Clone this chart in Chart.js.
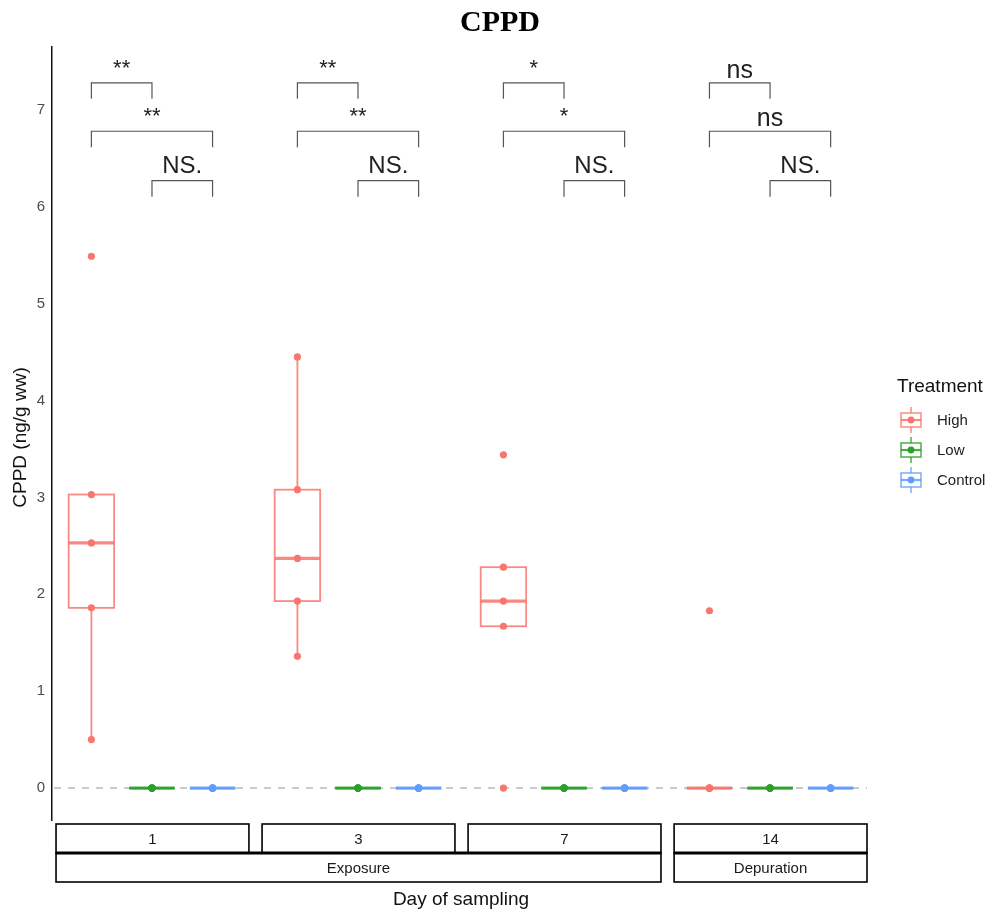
<!DOCTYPE html>
<html>
<head>
<title>CPPD</title>
<script src="https://cdn.jsdelivr.net/npm/chart.js@4"></script>
<style>
  body { margin: 0; background: #fff; }
</style>
</head>
<body>
<canvas id="c" width="990" height="913"></canvas>
<script>
// ---- data ----
const days = ['1', '3', '7', '14'];
const phases = ['Exposure', 'Depuration'];
const phaseSpan = [3, 1];           // how many day panels each phase covers
const treatments = ['High', 'Low', 'Control'];
const colors = ['#F8766D', '#2CA02C', '#619CFF'];

// observations per day (1, 3, 7, 14)
const highValues = [
  [0.50, 1.86, 2.53, 3.03, 5.49],
  [1.36, 1.93, 2.37, 3.08, 4.45],
  [0.00, 1.67, 1.93, 2.28, 3.44],
  [0.00, 0.00, 0.00, 0.00, 1.83]
];
const lowValues = [
  [0, 0, 0, 0, 0],
  [0, 0, 0, 0, 0],
  [0, 0, 0, 0, 0],
  [0, 0, 0, 0, 0]
];
const controlValues = [
  [0, 0, 0, 0, 0],
  [0, 0, 0, 0, 0],
  [0, 0, 0, 0, 0],
  [0, 0, 0, 0, 0]
];
const yTicks = [0, 1, 2, 3, 4, 5, 6, 7];

// significance brackets: pairs of treatments, level on y, label per day
const sigPairs = [[0, 1], [0, 2], [1, 2]];
const sigLevels = [7.28, 6.78, 6.27];
const sigLabels = [
  ['**', '**', 'NS.'],
  ['**', '**', 'NS.'],
  ['*', '*', 'NS.'],
  ['ns', 'ns', 'NS.']
];

const series = [highValues, lowValues, controlValues];

// panel layout on one linear x axis: 3 slots per day, small gap between days
const slot = 3.4;
const pos = (d, t) => 1 + d * slot + t;
const panelMin = d => 0.4 + d * slot;
const panelMax = d => 3.6 + d * slot;
const boxHalf = 0.375;

function quantile(sorted, p) {
  const h = (sorted.length - 1) * p;
  const lo = Math.floor(h), hi = Math.ceil(h);
  return sorted[lo] + (sorted[hi] - sorted[lo]) * (h - lo);
}
function boxStats(vals) {
  const s = vals.slice().sort((a, b) => a - b);
  const q1 = quantile(s, 0.25), med = quantile(s, 0.5), q3 = quantile(s, 0.75);
  const iqr = q3 - q1;
  const inside = s.filter(v => v >= q1 - 1.5 * iqr && v <= q3 + 1.5 * iqr);
  return { q1, med, q3, lo: Math.min(...inside), hi: Math.max(...inside) };
}

const datasets = treatments.map((name, t) => ({
  label: name,
  data: series[t].flatMap((vals, d) => vals.map(v => ({ x: pos(d, t), y: v }))),
  backgroundColor: colors[t],
  borderColor: colors[t],
  pointRadius: 3.6,
  pointHoverRadius: 3.6,
  borderWidth: 0
}));

const sans = "'Liberation Sans', Arial, sans-serif";

const boxPlugin = {
  id: 'boxes',
  beforeDatasetsDraw(chart) {
    const { ctx, chartArea: a, scales: { x, y } } = chart;
    ctx.save();
    // dashed zero line
    const y0 = y.getPixelForValue(0);
    ctx.strokeStyle = '#b5b5b5';
    ctx.lineWidth = 1.4;
    ctx.setLineDash([7, 7]);
    ctx.beginPath();
    ctx.moveTo(a.left + 2, y0);
    ctx.lineTo(a.right, y0);
    ctx.stroke();
    ctx.setLineDash([]);

    series.forEach((perDay, t) => perDay.forEach((vals, d) => {
      const s = boxStats(vals);
      const xc = x.getPixelForValue(pos(d, t));
      const xl = x.getPixelForValue(pos(d, t) - boxHalf);
      const xr = x.getPixelForValue(pos(d, t) + boxHalf);
      ctx.strokeStyle = colors[t];
      ctx.globalAlpha = 0.85;
      ctx.lineWidth = 1.8;
      ctx.beginPath();
      ctx.moveTo(xc, y.getPixelForValue(s.q3));
      ctx.lineTo(xc, y.getPixelForValue(s.hi));
      ctx.moveTo(xc, y.getPixelForValue(s.q1));
      ctx.lineTo(xc, y.getPixelForValue(s.lo));
      ctx.stroke();
      ctx.strokeRect(xl, y.getPixelForValue(s.q3), xr - xl,
        y.getPixelForValue(s.q1) - y.getPixelForValue(s.q3));
      ctx.lineWidth = 3.2;
      ctx.beginPath();
      ctx.moveTo(xl, y.getPixelForValue(s.med));
      ctx.lineTo(xr, y.getPixelForValue(s.med));
      ctx.stroke();
      ctx.globalAlpha = 1;
    }));
    ctx.restore();
  },
  afterDraw(chart) {
    const { ctx, chartArea: a, scales: { x, y } } = chart;
    ctx.save();

    // significance brackets
    ctx.strokeStyle = '#555';
    ctx.lineWidth = 1.2;
    ctx.fillStyle = '#222';
    ctx.textAlign = 'center';
    ctx.textBaseline = 'alphabetic';
    days.forEach((day, d) => {
      sigPairs.forEach(([t1, t2], k) => {
        const x1 = x.getPixelForValue(pos(d, t1));
        const x2 = x.getPixelForValue(pos(d, t2));
        const yl = y.getPixelForValue(sigLevels[k]);
        ctx.beginPath();
        ctx.moveTo(x1, yl + 16);
        ctx.lineTo(x1, yl);
        ctx.lineTo(x2, yl);
        ctx.lineTo(x2, yl + 16);
        ctx.stroke();
        const lab = sigLabels[d][k];
        let size = 22, off = 8;
        if (lab === 'NS.') { size = 24; off = 8; }
        else if (lab === 'ns') { size = 25; off = 5; }
        ctx.font = size + 'px ' + sans;
        ctx.fillText(lab, (x1 + x2) / 2, yl - off);
      });
    });

    // facet strips
    const top = a.bottom + 4, h = 29;
    ctx.textBaseline = 'middle';
    ctx.strokeStyle = '#000';
    ctx.lineWidth = 1.6;
    ctx.fillStyle = '#1a1a1a';
    ctx.font = '15px ' + sans;
    days.forEach((day, d) => {
      const l = x.getPixelForValue(panelMin(d)) + 1;
      const r = x.getPixelForValue(panelMax(d));
      ctx.strokeRect(l, top, r - l, h);
      ctx.fillText(day, (l + r) / 2, top + h / 2 + 1);
    });
    let first = 0;
    phases.forEach((ph, i) => {
      const last = first + phaseSpan[i] - 1;
      const l = x.getPixelForValue(panelMin(first)) + 1;
      const r = x.getPixelForValue(panelMax(last));
      ctx.lineWidth = 1.6;
      ctx.strokeRect(l, top + h, r - l, h);
      ctx.beginPath();
      ctx.lineWidth = 3;
      ctx.moveTo(l, top + h);
      ctx.lineTo(r, top + h);
      ctx.stroke();
      ctx.fillText(ph, (l + r) / 2, top + h * 1.5 + 1);
      first = last + 1;
    });

    // axis titles
    ctx.fillStyle = '#111';
    ctx.font = '19px ' + sans;
    ctx.fillText('Day of sampling', (x.getPixelForValue(panelMin(0)) + a.right) / 2, 900);
    ctx.save();
    ctx.translate(21, (a.top + a.bottom) / 2 + 4);
    ctx.rotate(-Math.PI / 2);
    ctx.fillText('CPPD (ng/g ww)', 0, 0);
    ctx.restore();

    // main title
    ctx.fillStyle = '#000';
    ctx.font = "bold 30px 'Liberation Serif', 'Times New Roman', serif";
    ctx.fillText('CPPD', 500, 23);

    // legend
    ctx.textAlign = 'left';
    ctx.font = '19px ' + sans;
    ctx.fillStyle = '#111';
    ctx.fillText('Treatment', 897, 387);
    ctx.font = '15px ' + sans;
    treatments.forEach((name, t) => {
      const cy = 420 + t * 30, cx = 911;
      ctx.strokeStyle = colors[t];
      ctx.globalAlpha = 0.85;
      ctx.lineWidth = 1.5;
      ctx.beginPath();
      ctx.moveTo(cx, cy - 13); ctx.lineTo(cx, cy - 7);
      ctx.moveTo(cx, cy + 7); ctx.lineTo(cx, cy + 13);
      ctx.stroke();
      ctx.strokeRect(cx - 10, cy - 7, 20, 14);
      ctx.lineWidth = 2.2;
      ctx.beginPath();
      ctx.moveTo(cx - 10, cy); ctx.lineTo(cx + 10, cy);
      ctx.stroke();
      ctx.globalAlpha = 1;
      ctx.fillStyle = colors[t];
      ctx.beginPath();
      ctx.arc(cx, cy, 3.4, 0, Math.PI * 2);
      ctx.fill();
      ctx.fillStyle = '#222';
      ctx.fillText(name, 937, cy + 1);
    });
    ctx.restore();
  }
};

new Chart(document.getElementById('c').getContext('2d'), {
  type: 'scatter',
  data: { datasets },
  options: {
    responsive: false,
    animation: false,
    devicePixelRatio: 1,
    layout: { padding: { left: 0, top: 47, right: 123, bottom: 93 } },
    plugins: { legend: { display: false }, tooltip: { enabled: false } },
    scales: {
      x: { type: 'linear', display: false, min: 0.35, max: 13.8 },
      y: {
        min: -0.33,
        max: 7.65,
        grid: { display: false, drawTicks: false },
        border: { display: true, color: '#111', width: 1.5 },
        ticks: { padding: 7, color: '#4d4d4d', font: { size: 15, family: sans } },
        afterFit(s) { s.width = 52; },
        afterBuildTicks(s) { s.ticks = yTicks.map(v => ({ value: v })); }
      }
    }
  },
  plugins: [boxPlugin]
});
</script>
</body>
</html>
